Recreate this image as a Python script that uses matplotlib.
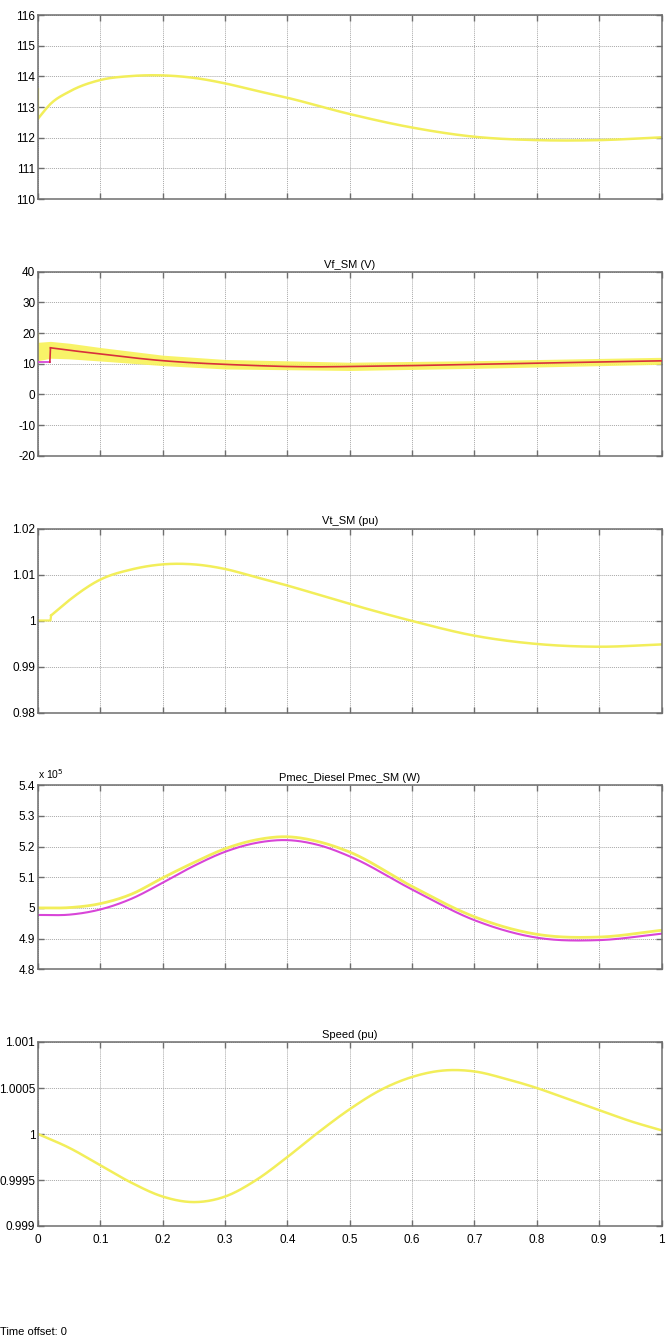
import matplotlib
matplotlib.use("Agg")
import matplotlib.pyplot as plt
import numpy as np
from matplotlib.ticker import FuncFormatter

plt.rcParams["font.family"] = ["Liberation Sans", "DejaVu Sans"]

YEL = "#f2ee5a"
BAND = "#f8f258"
MAG = "#d845d8"
RED = "#d8303c"
GRID = "#a8a8a8"
FRAME = "#6e6e6e"

# --- panel 1 (untitled) ---
t1 = [0.0, 0.0, 0.02, 0.05, 0.1, 0.15, 0.2, 0.25, 0.3, 0.35, 0.4, 0.5, 0.6, 0.7, 0.8, 0.9, 1.0]
y1 = [113.6, 112.62, 113.1, 113.5, 113.88, 114.01, 114.03, 113.95, 113.77, 113.53, 113.3,
      112.77, 112.33, 112.03, 111.92, 111.92, 112.01]

# --- Vf_SM (V) ---
t2_pre = [0.0, 0.019]
vf_pre = [10.5, 10.5]
t2 = [0.019, 0.02, 0.05, 0.1, 0.15, 0.2, 0.25, 0.3, 0.35, 0.4, 0.45, 0.5, 0.6, 0.7, 0.8, 0.9, 1.0]
vf = [10.5, 15.2, 14.4, 13.2, 12.0, 11.0, 10.3, 9.8, 9.4, 9.1, 9.0, 9.1, 9.4, 9.8, 10.2, 10.6, 10.95]
band_t = [0.0, 0.02, 0.05, 0.1, 0.2, 0.3, 0.5, 0.7, 1.0]
band_lo = [11.0, 11.8, 11.6, 10.9, 9.4, 8.3, 7.8, 8.5, 9.8]
band_hi = [17.0, 17.3, 16.7, 15.3, 12.8, 11.4, 10.5, 11.0, 12.1]

# --- Vt_SM (pu) ---
t3 = [0.0, 0.02, 0.021, 0.05, 0.1, 0.15, 0.2, 0.25, 0.3, 0.35, 0.4, 0.45, 0.5, 0.6, 0.7,
      0.8, 0.9, 1.0]
vt = [1.0, 1.0, 1.0011, 1.0044, 1.0089, 1.0111, 1.0122, 1.0122, 1.0112, 1.0094, 1.0076,
      1.0056, 1.0036, 0.9999, 0.9967, 0.9949, 0.9943, 0.9948]

# --- Pmec_Diesel / Pmec_SM (W), x 1e5 ---
t4 = [0.0, 0.05, 0.1, 0.15, 0.2, 0.25, 0.3, 0.35, 0.4, 0.45, 0.5, 0.6, 0.7, 0.8, 0.9, 1.0]
pmec_diesel = [5.000, 5.001, 5.014, 5.045, 5.098, 5.148, 5.193, 5.222, 5.232, 5.216, 5.182,
               5.070, 4.971, 4.914, 4.905, 4.927]
pmec_sm = [4.977, 4.978, 4.995, 5.030, 5.082, 5.137, 5.183, 5.212, 5.221, 5.205, 5.168,
           5.060, 4.960, 4.903, 4.895, 4.916]

# --- Speed (pu) ---
t5 = [0.0, 0.05, 0.1, 0.15, 0.2, 0.25, 0.3, 0.35, 0.4, 0.45, 0.5, 0.55, 0.6, 0.65, 0.7,
      0.75, 0.8, 0.85, 0.9, 0.95, 1.0]
speed = [1.0, 0.99985, 0.99966, 0.99947, 0.99932, 0.99926, 0.99932, 0.99950, 0.99975,
         1.00002, 1.00027, 1.00048, 1.00062, 1.00069, 1.00068, 1.0006, 1.0005, 1.00038,
         1.00026, 1.00014, 1.00004]

titles = ["", "Vf_SM (V)", "Vt_SM (pu)", "Pmec_Diesel Pmec_SM (W)", "Speed (pu)"]
ylims = [(110, 116), (-20, 40), (0.98, 1.02), (4.8, 5.4), (0.999, 1.001)]
ysteps = [1, 10, 0.01, 0.1, 0.0005]

W, H = 669, 1338
fig = plt.figure(figsize=(W / 100, H / 100), dpi=100)
axes = []
for k in range(5):
    top = 15 + 256.75 * k
    ax = fig.add_axes([38 / W, 1 - (top + 184) / H, 623.5 / W, 184 / H])
    axes.append(ax)


def smooth(tx, ty, n=400):
    # cubic hermite through the read points
    tx = np.asarray(tx, float); ty = np.asarray(ty, float)
    xs = np.linspace(tx[0], tx[-1], n)
    m = np.gradient(ty, tx)
    out = np.empty_like(xs)
    for i, x in enumerate(xs):
        j = min(np.searchsorted(tx, x, side="right") - 1, len(tx) - 2)
        h = tx[j + 1] - tx[j]
        s = (x - tx[j]) / h
        h00 = 2 * s**3 - 3 * s**2 + 1; h10 = s**3 - 2 * s**2 + s
        h01 = -2 * s**3 + 3 * s**2; h11 = s**3 - s**2
        out[i] = h00 * ty[j] + h10 * h * m[j] + h01 * ty[j + 1] + h11 * h * m[j + 1]
    return xs, out


ax = axes[0]
ax.plot(t1[:2], y1[:2], color=YEL, lw=1.6)
xs, ys = smooth(t1[1:], y1[1:])
ax.plot(xs, ys, color=YEL, lw=1.8)

ax = axes[1]
ax.plot(t2_pre, vf_pre, color=MAG, lw=1.3, zorder=3)
bx = np.linspace(0, 1, 300)
ax.fill_between(bx, np.interp(bx, band_t, band_lo), np.interp(bx, band_t, band_hi),
                color=BAND, alpha=0.9, lw=0, zorder=2)
ax.plot([0, 0], [10.5, 20], color=BAND, lw=1.0, alpha=0.7)
xs, ys = smooth(t2[1:], vf[1:])
ax.plot([t2[0], t2[1]], [vf[0], vf[1]], color=RED, lw=1.2, zorder=4)
ax.plot(xs, ys, color=RED, lw=1.2, zorder=4)

ax = axes[2]
ax.plot(t3[:3], vt[:3], color=YEL, lw=1.6)
xs, ys = smooth(t3[2:], vt[2:])
ax.plot(xs, ys, color=YEL, lw=1.8)

ax = axes[3]
xs, ys = smooth(t4, pmec_diesel)
ax.plot(xs, ys, color=YEL, lw=2.0)
xs, ys = smooth(t4, pmec_sm)
ax.plot(xs, ys, color=MAG, lw=1.5)
ax.text(0.0, 1.025, "x 10$^5$", transform=ax.transAxes, fontsize=7.5, ha="left", va="bottom")

ax = axes[4]
xs, ys = smooth(t5, speed)
ax.plot(xs, ys, color=YEL, lw=1.8)

fmt = FuncFormatter(lambda v, p: ("%.4f" % v).rstrip("0").rstrip(".") if abs(v) > 1e-12 else "0")
for k, ax in enumerate(axes):
    lo, hi = ylims[k]
    ax.set_xlim(0, 1)
    ax.set_ylim(lo, hi)
    ax.set_xticks(np.round(np.arange(0, 1.01, 0.1), 1))
    ax.set_yticks(np.arange(lo, hi + ysteps[k] / 2, ysteps[k]))
    ax.yaxis.set_major_formatter(fmt)
    ax.xaxis.set_major_formatter(fmt)
    ax.grid(True, color=GRID, ls=(0, (1, 1)), lw=0.7)
    ax.tick_params(direction="in", length=4, width=1.0, color=FRAME, labelsize=8.5,
                   top=True, right=True, pad=2)
    ax.tick_params(axis="x", pad=6)
    for s in ax.spines.values():
        s.set_color(FRAME); s.set_linewidth(1.1)
    if k < 4:
        ax.tick_params(labelbottom=False)
    if titles[k]:
        ax.set_title(titles[k], fontsize=8, pad=3)

fig.text(0.0, 1 - 1332 / H, "Time offset: 0", fontsize=8, ha="left", va="center")
fig.savefig("out.png", dpi=100)
